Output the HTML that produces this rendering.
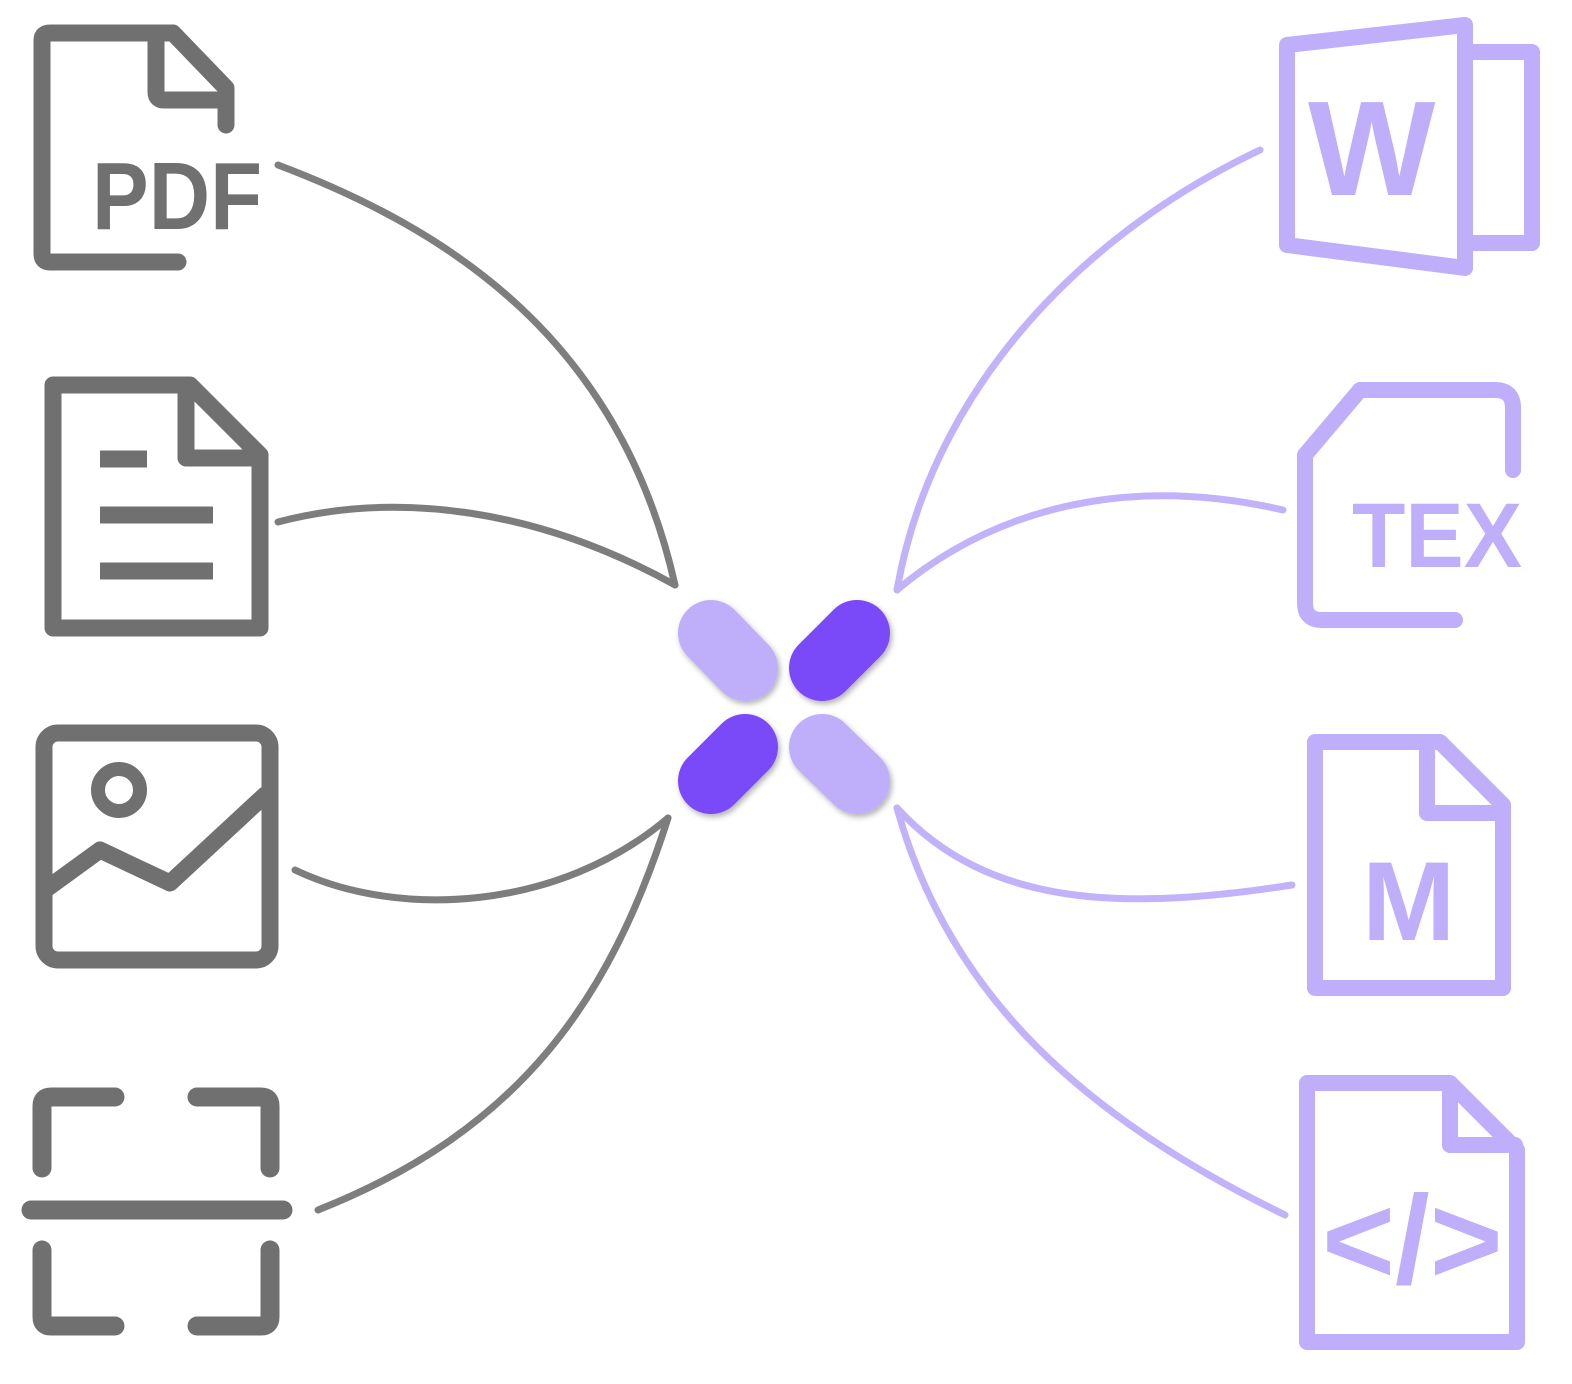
<!DOCTYPE html>
<html><head><meta charset="utf-8"><style>
html,body{margin:0;padding:0;background:#fff;}
svg{display:block;}
text{font-family:"Liberation Sans","DejaVu Sans",sans-serif;font-weight:bold;}
</style></head><body>
<svg width="1572" height="1384" viewBox="0 0 1572 1384" xmlns="http://www.w3.org/2000/svg">
<defs>
<filter id="sh" x="-30%" y="-30%" width="160%" height="160%"><feDropShadow dx="2" dy="3" stdDeviation="3" flood-color="#000" flood-opacity="0.3"/></filter>
</defs>
<g fill="none" stroke="#707070" stroke-width="17" stroke-linecap="round" stroke-linejoin="round">
<path d="M178,262 H50 Q42,262 42,254 V40 Q42,33 50,33 H173 L226,88 V125"/>
<path d="M156,35 V92 Q156,100 164,100 H222"/>
<path d="M53,385 H190 L260,455 V628 H53 Z"/>
<path d="M186,387 V458 H258"/>
<path d="M100,459 H147 M100,515 H213 M100,571 H213" stroke-linecap="butt"/>
<rect x="44" y="733" width="226" height="227" rx="14"/>
<circle cx="119" cy="790" r="21" stroke-width="14"/>
<path d="M45,890 L100,850 L170,883 L265,795"/>
<path d="M42,1168 V1106 Q42,1097 51,1097 H115" stroke-width="19"/>
<path d="M197,1097 H261 Q270,1097 270,1106 V1168" stroke-width="19"/>
<path d="M42,1250 V1317 Q42,1326 51,1326 H115" stroke-width="19"/>
<path d="M197,1326 H261 Q270,1326 270,1317 V1250" stroke-width="19"/>
<path d="M31,1210 H283" stroke-width="19"/>
<g stroke-width="7" opacity="0.9">
<path d="M278,165 C450,230 620,340 675,585"/>
<path d="M278,522 C400,490 540,510 675,585"/>
<path d="M295,870 C400,920 560,910 668,818"/>
<path d="M318,1210 C520,1130 610,1000 668,818"/>
</g>
</g>
<text x="92" y="229" font-size="96" fill="#707070" textLength="170" lengthAdjust="spacingAndGlyphs">PDF</text>

<g fill="none" stroke="#bfaefa" stroke-width="16" stroke-linecap="round" stroke-linejoin="round">
<path d="M1287,45 L1465,25 L1465,268 L1287,245 Z"/>
<path d="M1467,52 H1532 V243 H1467"/>
<path d="M1455,620 H1322 Q1305,620 1305,603 V455 L1360,390 H1495 Q1513,390 1513,408 V470"/>
<path d="M1315,742 H1440 L1503,805 V988 H1315 Z"/>
<path d="M1427,744 V813 H1501"/>
<path d="M1307,1083 H1450 L1517,1150 V1342 H1307 Z"/>
<path d="M1450,1085 V1145 H1515"/>
<g stroke-width="7" opacity="0.95">
<path d="M1260,150 C1070,240 930,400 897,590"/>
<path d="M1283,510 C1110,470 980,520 897,590"/>
<path d="M1292,885 C1130,910 990,910 897,808"/>
<path d="M1285,1215 C1090,1120 950,1000 897,808"/>
</g>
</g>
<text x="1308" y="195" font-size="135" fill="#bfaefa">W</text>
<text x="1352" y="567" font-size="92" fill="#bfaefa" textLength="170" lengthAdjust="spacingAndGlyphs">TEX</text>
<text x="1362" y="940" font-size="112" fill="#bfaefa">M</text>
<text x="1322" y="1283" font-size="125" fill="#bfaefa">&lt;/&gt;</text>

<g stroke-linecap="round" stroke-width="66" filter="url(#sh)">
<line x1="711" y1="633" x2="745" y2="668" stroke="#bfaefa"/>
<line x1="857" y1="633" x2="822" y2="668" stroke="#7a4af8"/>
<line x1="711" y1="781" x2="745" y2="747" stroke="#7a4af8"/>
<line x1="857" y1="781" x2="822" y2="747" stroke="#bfaefa"/>
</g>
</svg>
</body></html>
